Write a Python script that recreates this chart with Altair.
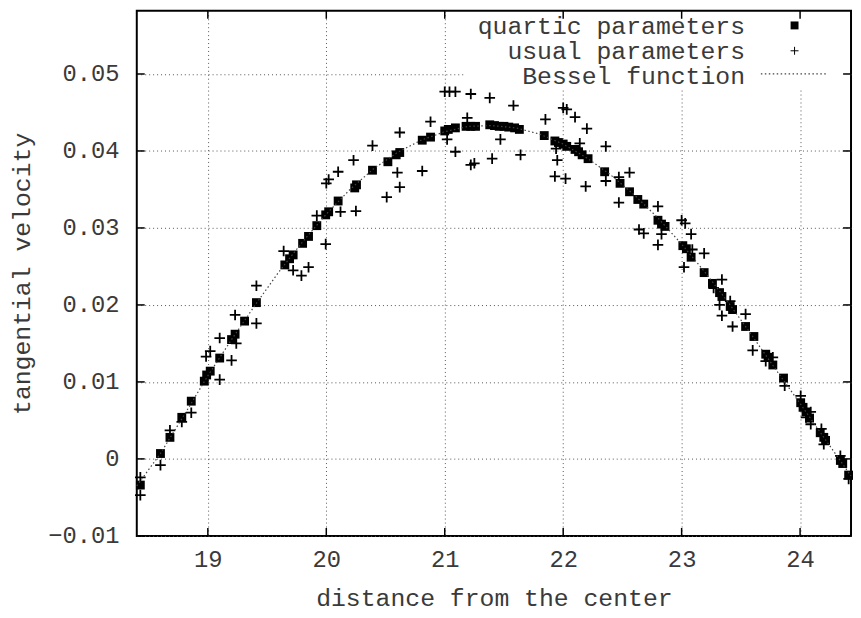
import altair as alt
import pandas as pd

# ---- data ----
quartic_x = [18.43, 18.60, 18.68, 18.78, 18.86, 18.97, 18.99, 19.02, 19.10, 19.20,
             19.23, 19.31, 19.41, 19.65, 19.69, 19.72, 19.80, 19.85, 19.92, 19.995,
             20.02, 20.10, 20.24, 20.255, 20.39, 20.52, 20.59, 20.62, 20.81, 20.88,
             21.00, 21.03, 21.09, 21.18, 21.22, 21.26, 21.38, 21.42, 21.46, 21.50,
             21.54, 21.59, 21.63, 21.84, 21.93, 21.96, 22.00, 22.03, 22.10, 22.13,
             22.16, 22.21, 22.35, 22.48, 22.56, 22.63, 22.68, 22.80, 22.83, 22.86,
             23.01, 23.04, 23.08, 23.19, 23.26, 23.32, 23.34, 23.41, 23.43, 23.54,
             23.61, 23.71, 23.73, 23.77, 23.86, 24.005, 24.025, 24.05, 24.08, 24.17,
             24.20, 24.215, 24.34, 24.36, 24.41]
quartic_y = [-0.0034, 0.0007, 0.0028, 0.0054, 0.0075, 0.0101, 0.0109, 0.0114, 0.0131, 0.0155,
             0.0162, 0.0179, 0.0203, 0.0252, 0.0260, 0.0265, 0.0280, 0.0289, 0.0303, 0.0317,
             0.0321, 0.0335, 0.0352, 0.0356, 0.0375, 0.0386, 0.0395, 0.0398, 0.0414, 0.0418,
             0.0426, 0.0428, 0.0430, 0.0432, 0.0432, 0.0432, 0.0434, 0.0433, 0.0432, 0.0432,
             0.0431, 0.0430, 0.0428, 0.0420, 0.0413, 0.0411, 0.0409, 0.0406, 0.0402, 0.0399,
             0.0395, 0.0390, 0.0373, 0.0358, 0.0347, 0.0337, 0.0331, 0.0310, 0.0305, 0.0302,
             0.0277, 0.0273, 0.0262, 0.0242, 0.0228, 0.0216, 0.0211, 0.0198, 0.0194, 0.0172,
             0.0159, 0.0136, 0.0132, 0.0122, 0.0105, 0.0073, 0.0067, 0.0061, 0.0053, 0.0034,
             0.0028, 0.0024, -0.0002, -0.0006, -0.0021]

usual_x = [18.43, 18.43, 18.60, 18.68, 18.78, 18.86, 18.985, 19.02, 19.10, 19.10,
           19.20, 19.24, 19.23, 19.41, 19.41, 19.64, 19.72, 19.79, 19.85, 19.92,
           19.995, 20.00, 20.02, 20.10, 20.12, 20.23, 20.25, 20.39, 20.51, 20.62,
           20.60, 20.62, 20.81, 20.88, 21.00, 21.04, 21.09, 21.22, 21.38, 21.58,
           21.02, 21.09, 21.19, 21.22, 21.25, 21.40, 21.47, 21.64, 21.85, 21.94,
           21.95, 21.93, 22.00, 22.03, 22.02, 22.10, 22.14, 22.19, 22.20, 22.36,
           22.36, 22.47, 22.56, 22.47, 22.64, 22.68, 22.80, 22.80, 22.83, 23.00,
           23.03, 23.08, 23.02, 23.09, 23.19, 23.27, 23.34, 23.32, 23.41, 23.34,
           23.54, 23.43, 23.60, 23.71, 23.77, 23.87, 24.005, 24.05, 24.09, 24.09,
           24.18, 24.20, 24.34, 24.41]
usual_y = [-0.0024, -0.0047, -0.0008, 0.0037, 0.0048, 0.0060, 0.0133, 0.0140, 0.0103, 0.0157,
           0.0128, 0.0150, 0.0187, 0.0176, 0.0225, 0.0270, 0.0245, 0.0238, 0.0249, 0.0316,
           0.0279, 0.0358, 0.0363, 0.0373, 0.0321, 0.0388, 0.0322, 0.0407, 0.0340, 0.0353,
           0.0372, 0.0424, 0.0374, 0.0438, 0.0477, 0.0477, 0.0477, 0.0474, 0.0469, 0.0459,
           0.0415, 0.0399, 0.0443, 0.0382, 0.0384, 0.0390, 0.0415, 0.0395, 0.0441, 0.0403,
           0.0388, 0.0367, 0.0456, 0.0454, 0.0364, 0.0444, 0.0410, 0.0354, 0.0429, 0.0406,
           0.0361, 0.0366, 0.0372, 0.0333, 0.0298, 0.0293, 0.0328, 0.0278, 0.0292, 0.0310,
           0.0306, 0.0292, 0.0249, 0.0272, 0.0267, 0.0222, 0.0233, 0.0200, 0.0205, 0.0186,
           0.0188, 0.0172, 0.0141, 0.0127, 0.0132, 0.0095, 0.0082, 0.0054, 0.0061, 0.0045,
           0.0039, 0.0019, 0.0004, -0.0026]

bessel_x = [18.40, 18.60, 18.80, 19.00, 19.20, 19.40, 19.60, 19.80, 20.00, 20.20,
            20.40, 20.60, 20.80, 21.00, 21.20, 21.40, 21.60, 21.80, 22.00, 22.20,
            22.40, 22.60, 22.80, 23.00, 23.20, 23.40, 23.60, 23.80, 24.00, 24.20, 24.43]
bessel_y = [-0.0035, 0.0007, 0.0057, 0.0108, 0.0155, 0.0200, 0.0243, 0.0282, 0.0318, 0.0350,
            0.0377, 0.0398, 0.0414, 0.0425, 0.0432, 0.0433, 0.0430, 0.0422, 0.0409, 0.0391,
            0.0369, 0.0343, 0.0313, 0.0279, 0.0242, 0.0202, 0.0159, 0.0115, 0.0072, 0.0028, -0.0022]

x_ticks = [19, 20, 21, 22, 23, 24]
y_ticks = [-0.01, 0, 0.01, 0.02, 0.03, 0.04, 0.05]
legend_labels = ["quartic parameters", "usual parameters", "Bessel function"]

# ---- layout ----
W, H = 721, 530
FONT = "Liberation Mono"
TXT = "#3a3a3a"
TICK = 8

xs = alt.Scale(domain=[18.4, 24.43], nice=False, zero=False)
ys = alt.Scale(domain=[-0.01, 0.0582], nice=False, zero=False)

quartic = pd.DataFrame({"x": quartic_x, "y": quartic_y})
usual = pd.DataFrame({"x": usual_x, "y": usual_y})
bessel = pd.DataFrame({"x": bessel_x, "y": bessel_y})
xt = pd.DataFrame({"t": x_ticks})
yt = pd.DataFrame({"t": y_ticks})
one = pd.DataFrame({"k": [0]})

x_axis = alt.Axis(values=x_ticks, title="distance from the center", grid=True,
                  gridDash=[1, 3], gridColor="#555555", gridWidth=1,
                  ticks=False, domain=False, labelFont=FONT, labelFontSize=24,
                  labelColor=TXT, labelPadding=12, labelFlush=False,
                  titleFont=FONT, titleFontSize=25, titleFontWeight="normal",
                  titleColor=TXT, titleX=W / 2, titleY=62, titleAlign="center",
                  titleBaseline="middle")
y_axis = alt.Axis(values=y_ticks, title="tangential velocity", grid=True,
                  gridDash=[1, 3], gridColor="#555555", gridWidth=1,
                  ticks=False, domain=False, labelFont=FONT, labelFontSize=24,
                  labelColor=TXT, labelPadding=18,
                  labelExpr="datum.value == 0 ? '0' : format(datum.value, '.2f')",
                  titleFont=FONT, titleFontSize=25, titleFontWeight="normal",
                  titleColor=TXT, titleAngle=270, titleX=-116, titleY=H / 2,
                  titleAlign="center", titleBaseline="middle")


def X(field):
    return alt.X(field, scale=xs, axis=x_axis, title="distance from the center")


def Y(field):
    return alt.Y(field, scale=ys, axis=y_axis, title="tangential velocity")


# white key box hides the grid behind the legend
keybox = alt.Chart(one).mark_rect(color="white").encode(
    x=alt.value(332), x2=alt.value(719), y=alt.value(1.5), y2=alt.value(80))

tick_x_bottom = alt.Chart(xt).mark_rule(color="black", strokeWidth=1.5).encode(
    x=X("t:Q"), y=alt.value(H), y2=alt.value(H - TICK))
tick_x_top = alt.Chart(xt).mark_rule(color="black", strokeWidth=1.5).encode(
    x=X("t:Q"), y=alt.value(0), y2=alt.value(TICK))
tick_y_left = alt.Chart(yt).mark_rule(color="black", strokeWidth=1.5).encode(
    y=Y("t:Q"), x=alt.value(0), x2=alt.value(TICK))
tick_y_right = alt.Chart(yt).mark_rule(color="black", strokeWidth=1.5).encode(
    y=Y("t:Q"), x=alt.value(W), x2=alt.value(W - TICK))

squares = alt.Chart(quartic).mark_point(shape="square", filled=True, size=80,
                                        color="black", opacity=1).encode(
    x=X("x:Q"), y=Y("y:Q"))

PLUS = "M-1,0H1M0,-1V1"
pluses = alt.Chart(usual).mark_point(shape=PLUS, filled=False, size=115,
                                     strokeWidth=1.8, color="black", opacity=1).encode(
    x=X("x:Q"), y=Y("y:Q"))

curve = alt.Chart(bessel).mark_line(color="#444444", strokeWidth=1.2,
                                    strokeDash=[1.5, 2.5]).encode(
    x=X("x:Q"), y=Y("y:Q"))

# ---- key (gnuplot style: text right-aligned, sample on the right) ----
LX, SX = 614, 664
rows_y = [23.0, 48.5, 74.0]
key_text = [
    alt.Chart(one).mark_text(text=lbl, align="right", baseline="alphabetic",
                             font=FONT, fontSize=25, color=TXT).encode(
        x=alt.value(LX), y=alt.value(ry))
    for lbl, ry in zip(legend_labels, rows_y)
]
key_sq = alt.Chart(one).mark_point(shape="square", filled=True, size=64,
                                   color="black", opacity=1).encode(
    x=alt.value(SX), y=alt.value(14.7))
key_plus = alt.Chart(one).mark_point(shape=PLUS, filled=False, size=64,
                                     strokeWidth=1.0, color="black", opacity=1).encode(
    x=alt.value(SX), y=alt.value(40.3))
key_line = alt.Chart(one).mark_rule(color="#444444", strokeWidth=1.2,
                                    strokeDash=[1.5, 2.5]).encode(
    x=alt.value(630), x2=alt.value(697), y=alt.value(63.7))

chart = alt.layer(
    squares, keybox, tick_x_bottom, tick_x_top, tick_y_left, tick_y_right,
    pluses, curve, *key_text, key_sq, key_plus, key_line
).properties(
    width=W, height=H,
    background="white",
    autosize=alt.AutoSizeParams(type="none"),
    padding={"left": 130, "top": 0, "right": 2, "bottom": 80},
).configure_view(stroke="black", strokeWidth=2)

chart.save("out.html", embed_options={"renderer": "svg", "actions": False})
